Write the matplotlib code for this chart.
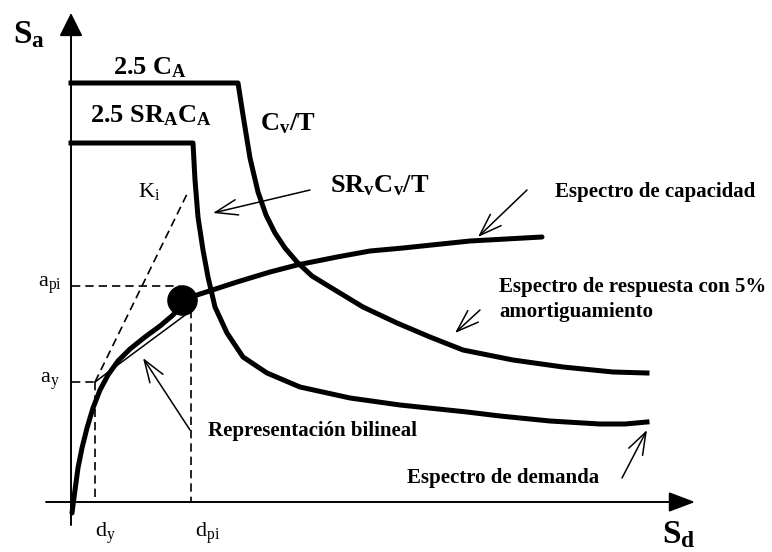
import matplotlib
matplotlib.use("Agg")
import matplotlib.pyplot as plt

plt.rcParams['font.family'] = ['Liberation Serif', 'DejaVu Serif']
plt.rcParams['mathtext.fontset'] = 'custom'
plt.rcParams['mathtext.rm'] = 'Liberation Serif'
plt.rcParams['mathtext.it'] = 'Liberation Serif:italic'
plt.rcParams['mathtext.bf'] = 'Liberation Serif:bold'

# Schematic units: Sd to the right, Sa upwards, origin at the axes crossing
# Elastic demand spectrum (2.5 CA plateau, then Cv/T)
demand5_sd = [0, 167, 172, 179, 187, 195, 204, 214, 226, 241, 259, 292, 326, 359, 392, 442, 492, 542, 576]
demand5_sa = [419, 419, 387, 344, 310, 287, 269, 254, 240, 226, 215, 195, 179, 165, 152, 142, 135, 130, 129]

# Reduced demand spectrum (2.5 SRA CA plateau, then SRv Cv/T)
reduced_sd = [0, 122, 124, 127, 132, 137, 144, 156, 172, 196, 229, 279, 329, 396, 429, 479, 529, 554, 576]
reduced_sa = [359, 359, 322, 285, 252, 225, 195, 169, 145, 129, 115, 104, 97, 90, 86, 81, 78, 78, 80]

# Capacity spectrum
cap_sd = [1, 4, 7, 11, 16, 22, 29, 37, 47, 59, 74, 89, 102, 111, 126, 166, 199, 226, 266, 299, 332, 399, 471]
cap_sa = [-11, 12, 34, 54, 74, 94, 112, 127, 141, 153, 165, 176, 187, 197, 207, 220, 230, 237, 245, 251, 254, 261, 265]

# yield point, performance point, initial stiffness line
dy, ay = 24, 120
dpi_, api = 120, 216
perf_sd, perf_sa = 111, 202
ki_end = (117, 310)
bilin_sd = [24, 44, 121]
bilin_sa = [120, 135, 192]

fig = plt.figure(figsize=(7.72, 5.52), dpi=100)
ax = fig.add_axes([0, 0, 1, 1])
ax.set_xlim(-71, 701)
ax.set_ylim(-50, 502)
ax.axis('off')

# Axes with filled arrow heads
ax.annotate('', xy=(0, 489), xytext=(0, -23),
            arrowprops=dict(arrowstyle='-|>,head_length=0.4,head_width=0.2', mutation_scale=36,
                            lw=1.4, color='black', shrinkA=0, shrinkB=0))
ax.annotate('', xy=(624, 0), xytext=(-25, 0),
            arrowprops=dict(arrowstyle='-|>,head_length=0.45,head_width=0.17', mutation_scale=36,
                            lw=1.4, color='black', shrinkA=0, shrinkB=0))

# Spectra
ax.plot(demand5_sd, demand5_sa, color='black', lw=3.6, solid_joinstyle='round')
ax.plot(reduced_sd, reduced_sa, color='black', lw=3.6, solid_joinstyle='round')
ax.plot(cap_sd, cap_sa, color='black', lw=3.6, solid_joinstyle='round', solid_capstyle='round')

# Dashed guide lines
dash = dict(color='black', lw=1.2, linestyle=(0, (5, 3)))
ax.plot([1, 109], [api, api], **dash)
ax.plot([dpi_, dpi_], [192, 0], **dash)
ax.plot([1, dy], [ay, ay], **dash)
ax.plot([dy, dy], [ay, 0], **dash)
ax.plot([dy, ki_end[0]], [ay, ki_end[1]], **dash)

# Bilinear representation
ax.plot(bilin_sd, bilin_sa, color='black', lw=1.1)

# Performance point
ax.plot(perf_sd, perf_sa, 'o', color='black', markersize=21)

# Pointer arrows (open heads)
pointers = [((239, 312), (142, 289)),
            ((456, 312), (407, 265)),
            ((409, 192), (384, 169)),
            ((119, 72), (72, 144)),
            ((551, 24), (576, 72))]
for tail, tip in pointers:
    ax.annotate('', xy=tip, xytext=tail,
                arrowprops=dict(arrowstyle='->,head_length=1.0,head_width=0.35', mutation_scale=16,
                                lw=1.1, color='black', shrinkA=0, shrinkB=0))

# Labels
ax.text(-58, 459, r'S$_\mathbf{a}$', fontsize=24, fontweight='bold', va='baseline')
ax.text(591, -41, r'S$_\mathbf{d}$', fontsize=24, fontweight='bold', va='baseline')
ax.text(42, 428, r'2.5 C$_\mathbf{A}$', fontsize=19, fontweight='bold', va='baseline')
ax.text(19, 380, r'2.5 SR$_\mathbf{A}$C$_\mathbf{A}$', fontsize=19, fontweight='bold', va='baseline')
ax.text(189, 372, r'C$_\mathbf{v}$/T', fontsize=19, fontweight='bold', va='baseline')
ax.text(259, 310, r'SR$_\mathbf{v}$C$_\mathbf{v}$/T', fontsize=19, fontweight='bold', va='baseline')
ax.text(67, 305, r'K$_\mathrm{i}$', fontsize=16, va='baseline')
ax.text(-33, 215, r'a$_\mathrm{pi}$', fontsize=16, va='baseline')
ax.text(-31, 119, r'a$_\mathrm{y}$', fontsize=16, va='baseline')
ax.text(24, -35, r'd$_\mathrm{y}$', fontsize=16, va='baseline')
ax.text(124, -35, r'd$_\mathrm{pi}$', fontsize=16, va='baseline')
ax.text(484, 305, 'Espectro de capacidad', fontsize=15, fontweight='bold', va='baseline')
ax.text(428, 210, 'Espectro de respuesta con 5%', fontsize=15, fontweight='bold', va='baseline')
ax.text(428, 185, 'amortiguamiento', fontsize=15, fontweight='bold', va='baseline')
ax.text(137, 66, 'Representación bilineal', fontsize=15, fontweight='bold', va='baseline')
ax.text(336, 19, 'Espectro de demanda', fontsize=15, fontweight='bold', va='baseline')

fig.savefig('out.png', dpi=100)
